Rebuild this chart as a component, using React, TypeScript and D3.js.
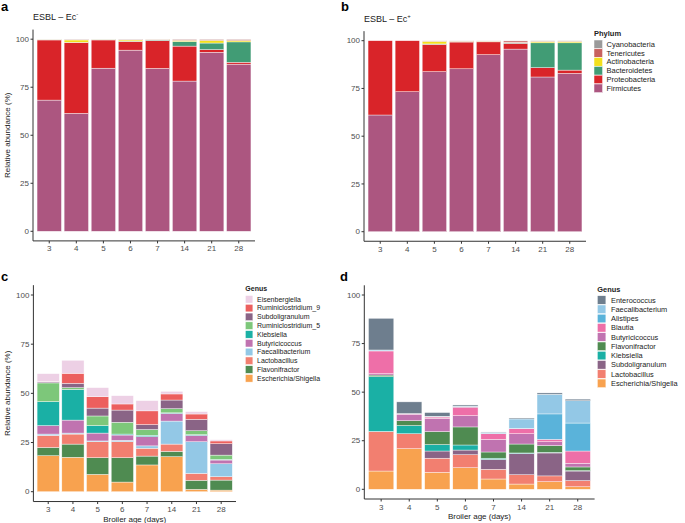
import React from "react";
import * as d3 from "d3";

const ages = ["3", "4", "5", "6", "7", "14", "21", "28"];
const yTicks = [0, 25, 50, 75, 100];

// Phylum, panel a (ESBL-Ec-)
const firmicutesA = [68.3, 61.4, 84.9, 94.3, 84.8, 78.2, 93.2, 87.0];
const proteobacteriaA = [31.3, 36.9, 14.7, 4.5, 14.5, 18.2, 1.4, 1.0];
const bacteroidetesA = [0.2, 0.1, 0.3, 0.2, 0.3, 2.4, 3.4, 10.6];
const actinobacteriaA = [0.1, 1.2, 0.05, 0.6, 0.2, 0.6, 1.4, 0.7];
const tenericutesA = [0.05, 0.3, 0.05, 0.3, 0.15, 0.5, 0.5, 0.6];
const cyanobacteriaA = [0.05, 0.1, 0.0, 0.1, 0.05, 0.1, 0.1, 0.1];

// Phylum, panel b (ESBL-Ec+)
const firmicutesB = [61.1, 73.3, 83.8, 85.3, 92.7, 95.6, 81.0, 82.9];
const proteobacteriaB = [38.9, 26.7, 14.3, 14.0, 6.7, 3.0, 4.9, 1.7];
const bacteroidetesB = [0, 0, 0.2, 0.2, 0.1, 0.3, 13.0, 14.3];
const actinobacteriaB = [0, 0, 1.4, 0.2, 0.2, 0.2, 0.7, 0.7];
const tenericutesB = [0, 0, 0.2, 0.2, 0.2, 0.8, 0.2, 0.2];
const cyanobacteriaB = [0, 0, 0.1, 0.1, 0.1, 0.1, 0.2, 0.2];

// Genus, panel c
const escherichiaC = [18.3, 17.5, 8.8, 4.9, 13.6, 17.8, 1.2, 0.8];
const flavonifractorC = [4.2, 6.7, 8.5, 12.4, 4.5, 2.7, 4.6, 5.1];
const lactobacillusC = [6.1, 5.1, 8.1, 8.1, 4.0, 3.7, 3.5, 1.7];
const faecalibacteriumC = [0.7, 0.5, 0.4, 0.7, 1.2, 11.7, 16.1, 6.6];
const butyricicoccusC = [4.3, 6.6, 4.0, 2.7, 4.7, 3.9, 3.2, 1.9];
const klebsiellaC = [12.2, 15.6, 3.8, 0.5, 0.7, 0.3, 0.4, 0.3];
const rumino5C = [9.5, 0.9, 4.9, 6.0, 2.9, 2.1, 2.0, 2.2];
const subdoligranulumC = [0.5, 2.2, 4.0, 6.2, 2.5, 4.4, 5.8, 5.8];
const rumino9C = [0.2, 5.1, 5.8, 3.1, 7.0, 3.1, 2.7, 1.4];
const eisenbergiellaC = [4.0, 6.6, 4.6, 4.2, 5.2, 1.3, 1.2, 0.6];

// Genus, panel d
const escherichiaD = [9.4, 20.9, 8.7, 11.1, 5.3, 2.7, 3.9, 1.3];
const lactobacillusD = [20.3, 7.7, 7.3, 6.7, 5.0, 4.8, 3.0, 3.2];
const subdoligranulumD = [0.1, 0, 3.7, 2.4, 5.1, 10.9, 11.8, 4.9];
const klebsiellaD = [28.2, 4.2, 3.3, 2.6, 0.6, 0.3, 0.3, 0.2];
const flavonifractorD = [0.8, 2.5, 6.7, 9.3, 3.2, 4.6, 3.5, 1.9];
const butyricicoccusD = [0.7, 3.3, 6.8, 5.8, 6.5, 5.3, 2.0, 1.9];
const blautiaD = [11.7, 0.3, 0.7, 4.4, 2.9, 2.6, 1.2, 6.3];
const alistipesD = [0, 0, 0.1, 0.4, 0.1, 0.2, 13.1, 14.4];
const faecalibacteriumD = [0.5, 0.1, 0.3, 0.1, 0.6, 4.8, 10.1, 11.5];
const enterococcusD = [16.3, 6.0, 1.9, 0.6, 0.2, 0.5, 0.7, 0.8];

const colors: Record<string, string> = {
  Cyanobacteria: "#9a9a9a",
  Tenericutes: "#c8625f",
  Actinobacteria: "#f2e01e",
  Bacteroidetes: "#419c75",
  Proteobacteria: "#d92429",
  Firmicutes: "#ac5680",
  Eisenbergiella: "#edd0e5",
  Ruminiclostridium_9: "#ec5f5e",
  Subdoligranulum: "#8a6486",
  Ruminiclostridium_5: "#7dc77a",
  Klebsiella: "#1ab0a5",
  Butyricicoccus: "#c073b0",
  Faecalibacterium: "#93c8e6",
  Lactobacillus: "#f27f70",
  Flavonifractor: "#4f8b51",
  "Escherichia/Shigella": "#f8a24f",
  Enterococcus: "#6e7e8e",
  Alistipes: "#5ab3da",
  Blautia: "#ee6fa8",
};

const phylumKeys = ["Firmicutes", "Proteobacteria", "Bacteroidetes", "Actinobacteria", "Tenericutes", "Cyanobacteria"];
const genusKeysC = ["Escherichia/Shigella", "Flavonifractor", "Lactobacillus", "Faecalibacterium", "Butyricicoccus", "Klebsiella", "Ruminiclostridium_5", "Subdoligranulum", "Ruminiclostridium_9", "Eisenbergiella"];
const genusKeysD = ["Escherichia/Shigella", "Lactobacillus", "Subdoligranulum", "Klebsiella", "Flavonifractor", "Butyricicoccus", "Blautia", "Alistipes", "Faecalibacterium", "Enterococcus"];

const seriesA = [firmicutesA, proteobacteriaA, bacteroidetesA, actinobacteriaA, tenericutesA, cyanobacteriaA];
const seriesB = [firmicutesB, proteobacteriaB, bacteroidetesB, actinobacteriaB, tenericutesB, cyanobacteriaB];
const seriesC = [escherichiaC, flavonifractorC, lactobacillusC, faecalibacteriumC, butyricicoccusC, klebsiellaC, rumino5C, subdoligranulumC, rumino9C, eisenbergiellaC];
const seriesD = [escherichiaD, lactobacillusD, subdoligranulumD, klebsiellaD, flavonifractorD, butyricicoccusD, blautiaD, alistipesD, faecalibacteriumD, enterococcusD];

const FONT = "'Liberation Sans', Arial, sans-serif";
const TXT = "#4d4d4d";

type Legend = { title: string; x: number; y: number; step: number; key: number; size: number; textX: number };

type PanelProps = {
  tag: string;
  tagX: number;
  tagY: number;
  title?: string;
  sup?: string;
  keys: string[];
  series: number[][];
  left: number;
  right: number;
  y100: number;
  y0: number;
  yLabel?: boolean;
  xLabel?: boolean;
  legend?: Legend;
};

const StackPanel = (p: PanelProps) => {
  const rows = ages.map((a, i) => {
    const r: Record<string, any> = { age: a };
    p.keys.forEach((k, j) => (r[k] = p.series[j][i]));
    return r;
  });
  const stacked = d3.stack<any>().keys(p.keys)(rows);
  const x = d3.scaleBand().domain(ages).range([p.left, p.right]).paddingInner(0.1).paddingOuter(0.15);
  const y = d3.scaleLinear().domain([0, 100]).range([p.y0, p.y100]);
  const bottom = y(-5);
  const top = y(105);

  return (
    <g fontFamily={FONT}>
      <text x={p.tagX} y={p.tagY} fontSize={13} fontWeight="bold" fill="#000">{p.tag}</text>
      {p.title && (
        <text x={p.left} y={p.y100 - 19} fontSize={9} fill="#222">
          {p.title}
          <tspan dy={-4} fontSize={6}>{p.sup}</tspan>
        </text>
      )}
      {stacked.map((s) => (
        <g key={s.key} fill={colors[s.key]}>
          {s.map((d, i) => (
            <rect
              key={i}
              x={x(ages[i])}
              width={x.bandwidth()}
              y={y(d[1])}
              height={Math.max(0, y(d[0]) - y(d[1]))}
              stroke="#fff"
              strokeWidth={0.5}
              strokeOpacity={0.8}
            />
          ))}
        </g>
      ))}
      <line x1={p.left} x2={p.left} y1={top} y2={bottom} stroke="#333" strokeWidth={1} />
      <line x1={p.left} x2={p.right} y1={bottom} y2={bottom} stroke="#333" strokeWidth={1} />
      {yTicks.map((t) => (
        <g key={t}>
          <line x1={p.left - 2.5} x2={p.left} y1={y(t)} y2={y(t)} stroke="#333" />
          <text x={p.left - 4} y={y(t)} dy="0.34em" textAnchor="end" fontSize={8} fill={TXT}>{t}</text>
        </g>
      ))}
      {ages.map((a) => {
        const cx = (x(a) as number) + x.bandwidth() / 2;
        return (
          <g key={a}>
            <line x1={cx} x2={cx} y1={bottom} y2={bottom + 2.5} stroke="#333" />
            <text x={cx} y={bottom + 10.5} textAnchor="middle" fontSize={8} fill={TXT}>{a}</text>
          </g>
        );
      })}
      {p.yLabel && (
        <text
          transform={`translate(10,${(p.y0 + p.y100) / 2}) rotate(-90)`}
          textAnchor="middle"
          fontSize={8}
          fill="#222"
        >
          Relative abundance (%)
        </text>
      )}
      {p.xLabel && (
        <text x={(p.left + p.right) / 2} y={bottom + 20} textAnchor="middle" fontSize={8} fill="#222">
          Broiler age (days)
        </text>
      )}
      {p.legend && (
        <g>
          <text x={p.legend.x} y={p.legend.y - p.legend.step * 0.9} fontSize={p.legend.size} fontWeight="bold" fill="#222">
            {p.legend.title}
          </text>
          {[...p.keys].reverse().map((k, i) => {
            const cy = p.legend!.y + i * p.legend!.step;
            return (
              <g key={k}>
                <rect
                  x={p.legend!.x}
                  y={cy - p.legend!.key / 2}
                  width={p.legend!.key}
                  height={p.legend!.key}
                  fill={colors[k]}
                  stroke="#fff"
                  strokeWidth={0.5}
                />
                <text x={p.legend!.textX} y={cy} dy="0.34em" fontSize={p.legend!.size} fill="#222">{k}</text>
              </g>
            );
          })}
        </g>
      )}
    </g>
  );
};

export default function App() {
  return (
    <svg width={685} height={523} style={{ position: "absolute", left: 0, top: 0, background: "#fff" }}>
      <StackPanel
        tag="a" tagX={1} tagY={11} title="ESBL – Ec" sup="-"
        keys={phylumKeys} series={seriesA}
        left={33} right={255} y100={39.2} y0={231.3} yLabel
      />
      <StackPanel
        tag="b" tagX={341} tagY={11} title="ESBL – Ec" sup="+"
        keys={phylumKeys} series={seriesB}
        left={364} right={586} y100={40.7} y0={231.7}
        legend={{ title: "Phylum", x: 594, y: 44.3, step: 8.8, key: 8.6, size: 7.5, textX: 606.5 }}
      />
      <StackPanel
        tag="c" tagX={1} tagY={281}
        keys={genusKeysC} series={seriesC}
        left={33.4} right={236} y100={295} y0={491.7} yLabel xLabel
        legend={{ title: "Genus", x: 245.3, y: 299.3, step: 8.78, key: 7.6, size: 7, textX: 257 }}
      />
      <StackPanel
        tag="d" tagX={340} tagY={281}
        keys={genusKeysD} series={seriesD}
        left={364.3} right={594.6} y100={295} y0={489.3} xLabel
        legend={{ title: "Genus", x: 597.3, y: 300, step: 9.26, key: 8.6, size: 7.4, textX: 611 }}
      />
    </svg>
  );
}
